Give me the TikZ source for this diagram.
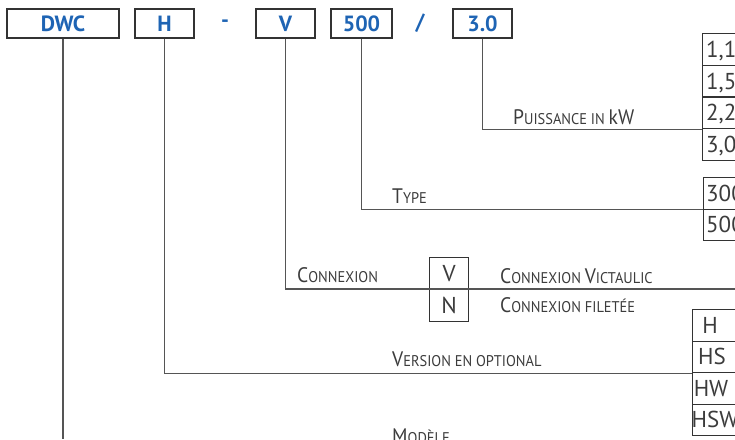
\documentclass[tikz,border=0pt]{standalone}
\usepackage{fontspec}
\setmainfont{PT Sans}
\newfontfamily\labf[FakeStretch=0.93]{PT Sans}
\definecolor{codeblue}{HTML}{1E64B4}
\definecolor{linegray}{HTML}{555555}
\definecolor{boxgray}{HTML}{333333}
\definecolor{textgray}{HTML}{3C3C3C}
\newcommand\Bg[1]{{\fontsize{21}{21}\selectfont #1}}
\begin{document}
\begin{tikzpicture}[x=1pt,y=-1pt,
  codebox/.style={draw=boxgray,line width=1.3pt,minimum height=29pt,inner sep=0pt,
     font=\fontsize{22}{22}\selectfont\bfseries,text=codeblue},
  sepmark/.style={font=\fontsize{22}{22}\selectfont\bfseries,text=codeblue,inner sep=0pt},
  conn/.style={draw=linegray,line width=1.2pt},
  cell/.style={draw=boxgray,line width=1.1pt,minimum width=60pt,minimum height=31.6pt,inner sep=0pt,anchor=north west},
  vcell/.style={draw=boxgray,line width=1.1pt,minimum width=39pt,minimum height=32pt,inner sep=0pt,anchor=north west,
     font=\fontsize{23}{23}\selectfont,text=textgray},
  celltxt/.style={font=\fontsize{23}{23}\selectfont,text=textgray,inner sep=0pt},
  lab/.style={font=\labf\fontsize{15.5}{15.5}\selectfont,text=textgray,inner sep=0pt,anchor=base west}]
\useasboundingbox (0,0) rectangle (735,439);
\clip (0,0) rectangle (735,439);
% top code boxes
\node[codebox,minimum width=112pt] (b1) at (63,23.5) {DWC};
\node[codebox,minimum width=59pt] (b2) at (164.5,23.5) {H};
\node[sepmark] (dash) at (225,23.5) {-};
\node[codebox,minimum width=59pt] (b3) at (285.5,23.5) {V};
\node[codebox,minimum width=61pt] (b4) at (361.5,23.5) {500};
\node[sepmark] (slash) at (420,23.5) {/};
\node[codebox,minimum width=59pt] (b5) at (482.5,23.5) {3.0};
% power table
\node[cell] (p1) at (702,33) {};
\node[cell] (p2) at (702,64.7) {};
\node[cell] (p3) at (702,96.4) {};
\node[cell] (p4) at (702,128.1) {};
\node[celltxt,anchor=base west] (p1t) at ([shift={(4,8)}]p1.west) {1,1};
\node[celltxt,anchor=base west] (p2t) at ([shift={(4,8)}]p2.west) {1,5};
\node[celltxt,anchor=base west] (p3t) at ([shift={(4,8)}]p3.west) {2,2};
\node[celltxt,anchor=base west] (p4t) at ([shift={(4,8)}]p4.west) {3,0};
% type table
\node[cell] (t1) at (703,177) {};
\node[cell] (t2) at (703,208.6) {};
\node[celltxt,anchor=base west] (t1t) at ([shift={(3,8)}]t1.west) {300};
\node[celltxt,anchor=base west] (t2t) at ([shift={(3,8)}]t2.west) {500};
% V / N box
\node[vcell] (cv) at (429,257) {V};
\node[vcell] (cn) at (429,289) {N};
% version table
\node[cell] (h1) at (692,309) {};
\node[cell] (h2) at (692,340.5) {};
\node[cell] (h3) at (692,372) {};
\node[cell] (h4) at (692,403.5) {};
\node[celltxt] (h1t) at ([shift={(18,0)}]h1.west) {H};
\node[celltxt] (h2t) at ([shift={(20,0)}]h2.west) {HS};
\node[celltxt] (h3t) at ([shift={(19,0)}]h3.west) {HW};
\node[celltxt] (h4t) at ([shift={(23,0)}]h4.west) {HSW};
% connectors
\coordinate (cend) at (735,289);
\coordinate (mend) at (63,439);
\draw[conn] (b5.south) |- (p3.south west);
\draw[conn] (b4.south) |- (t1.south west);
\draw[conn] (b3.south) |- (cend);
\draw[conn] (b2.south) |- (h2.south west);
\draw[conn] (b1.south) -- (mend);
% labels
\node[lab] (lp) at (513,124) {\Bg{P}UISSANCE IN \Bg{kW}};
\node[lab] (lt) at (392,203) {\Bg{T}YPE};
\node[lab] (lc) at (297,282) {\Bg{C}ONNEXION};
\node[lab] (lcv) at (500,283) {\Bg{C}ONNEXION \Bg{V}ICTAULIC};
\node[lab] (lcf) at (500,312) {\Bg{C}ONNEXION FILETÉE};
\node[lab] (lv) at (392,366) {\Bg{V}ERSION EN OPTIONAL};
\node[lab] (lm) at (392,443) {\Bg{M}ODÈLE};
\end{tikzpicture}
\end{document}
